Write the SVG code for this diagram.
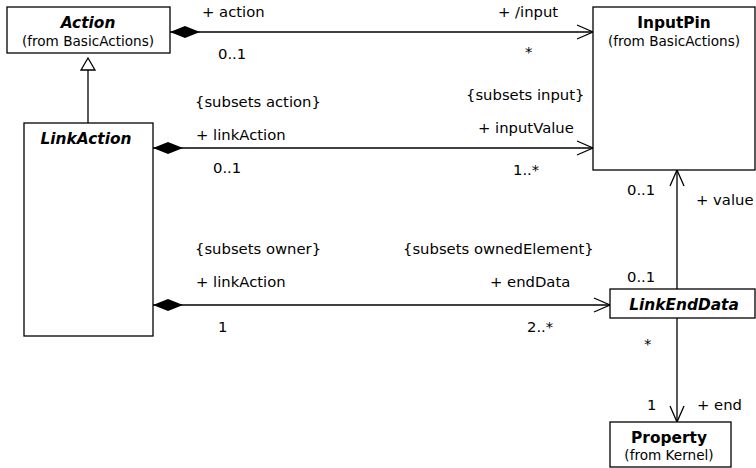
<svg xmlns="http://www.w3.org/2000/svg" width="756" height="468" viewBox="0 0 756 468">
<style>
text{font-family:"DejaVu Sans",Verdana,sans-serif;font-size:14.8px;fill:#000}
.s{font-size:13.6px}
.t{font-weight:bold;font-size:15.4px}
.i{font-style:italic}
.m{text-anchor:middle}
.box{fill:#fff;stroke:#000;stroke-width:1.3}
.ln{fill:none;stroke:#000;stroke-width:1.3}
</style>
<defs>
<marker id="open" viewBox="0 0 18 16" refX="17" refY="8" markerWidth="18" markerHeight="16" markerUnits="userSpaceOnUse" orient="auto">
<path d="M1,1 L17,8 L1,15" fill="none" stroke="#000" stroke-width="1.3"/>
</marker>
<marker id="dia" viewBox="0 0 30 14" refX="0" refY="7" markerWidth="30" markerHeight="14" markerUnits="userSpaceOnUse" orient="auto">
<path d="M0,7 L15,1 L30,7 L15,13 Z" fill="#000"/>
</marker>
</defs>
<g id="connectors">
<line class="ln" x1="88" y1="123" x2="88" y2="70"/>
<path d="M88,58 L95,70 L81,70 Z" fill="#fff" stroke="#000" stroke-width="1.3"/>
<line class="ln" x1="170" y1="32" x2="593" y2="32" marker-start="url(#dia)" marker-end="url(#open)"/>
<line class="ln" x1="153" y1="148" x2="593" y2="148" marker-start="url(#dia)" marker-end="url(#open)"/>
<line class="ln" x1="153" y1="305" x2="610" y2="305" marker-start="url(#dia)" marker-end="url(#open)"/>
<line class="ln" x1="677" y1="289" x2="677" y2="170" marker-end="url(#open)"/>
<line class="ln" x1="677" y1="318" x2="677" y2="422" marker-end="url(#open)"/>
<text x="202" y="17">+ action</text>
<text x="218" y="59">0..1</text>
<text x="498" y="17">+ /input</text>
<text x="525" y="57">*</text>
<text x="195" y="107">{subsets action}</text>
<text x="196" y="140">+ linkAction</text>
<text x="213" y="173">0..1</text>
<text x="466" y="100">{subsets input}</text>
<text x="478" y="133">+ inputValue</text>
<text x="513" y="175">1..*</text>
<text x="627" y="195">0..1</text>
<text x="696" y="205">+ value</text>
<text x="195" y="254">{subsets owner}</text>
<text x="196" y="287">+ linkAction</text>
<text x="218" y="332">1</text>
<text x="403" y="254">{subsets ownedElement}</text>
<text x="490" y="287">+ endData</text>
<text x="627" y="282">0..1</text>
<text x="527" y="332">2..*</text>
<text x="644" y="349">*</text>
<text x="647" y="410">1</text>
<text x="697" y="410">+ end</text>
</g>
<g id="Action">
<rect class="box" x="7" y="7" width="163" height="46"/>
<text class="t i m" x="88" y="28">Action</text>
<text class="s m" x="88" y="46">(from BasicActions)</text>
</g>
<g id="LinkAction">
<rect class="box" x="24" y="123" width="129" height="213"/>
<text class="t i m" x="86" y="144">LinkAction</text>
</g>
<g id="InputPin">
<rect class="box" x="593" y="7" width="162" height="163"/>
<text class="t m" x="674" y="28">InputPin</text>
<text class="s m" x="674" y="46">(from BasicActions)</text>
</g>
<g id="LinkEndData">
<rect class="box" x="610" y="289" width="145" height="29"/>
<text class="t i m" x="684" y="310">LinkEndData</text>
</g>
<g id="Property">
<rect class="box" x="610" y="422" width="121" height="45"/>
<text class="t m" x="669" y="443">Property</text>
<text class="s m" x="669" y="460">(from Kernel)</text>
</g>
</svg>
